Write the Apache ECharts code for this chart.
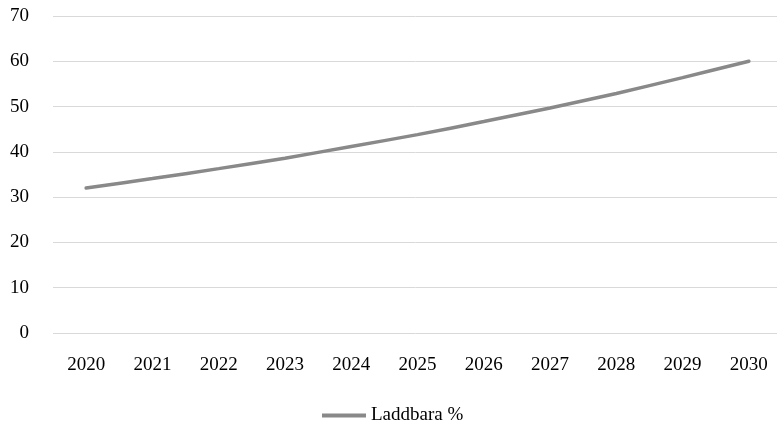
<!DOCTYPE html>
<html>
<head>
<meta charset="utf-8">
<script src="https://cdn.jsdelivr.net/npm/echarts@6/dist/echarts.min.js"></script>
<style>html,body{margin:0;padding:0;background:#fff;}#c{width:777px;height:429px;}</style>
</head>
<body>
<div id="c"></div>
<script>
var categories = ['2020','2021','2022','2023','2024','2025','2026','2027','2028','2029','2030'];
var laddbara = [32, 34.1, 36.3, 38.6, 41.2, 43.8, 46.7, 49.7, 52.9, 56.4, 60];
var seriesName = 'Laddbara %';
var yMin = 0, yMax = 70, yStep = 10;

var font = '"Liberation Serif", serif';
var chart = echarts.init(document.getElementById('c'), null, {renderer: 'canvas'});
chart.setOption({
  animation: false,
  backgroundColor: '#ffffff',
  grid: {left: 53, width: 729, top: 16, bottom: 96, containLabel: false, outerBoundsMode: 'none'},
  legend: {
    data: [seriesName],
    left: 322, top: 406, padding: 0,
    icon: 'rect', itemWidth: 44, itemHeight: 4, itemGap: 10,
    textStyle: {fontFamily: font, fontSize: 19, color: '#000'}
  },
  xAxis: {
    type: 'category', data: categories, boundaryGap: true,
    axisLine: {show: false}, axisTick: {show: false},
    axisLabel: {fontFamily: font, fontSize: 19, color: '#000', margin: 23}
  },
  yAxis: {
    type: 'value', min: yMin, max: yMax, interval: yStep,
    axisLine: {show: false}, axisTick: {show: false},
    axisLabel: {fontFamily: font, fontSize: 19, color: '#000', margin: 24},
    splitLine: {lineStyle: {color: '#d9d9d9', width: 1}}
  },
  series: [{
    name: seriesName, type: 'line', data: laddbara,
    smooth: 0.3, showSymbol: false, symbol: 'none',
    lineStyle: {color: '#898989', width: 3.5, cap: 'round'},
    itemStyle: {color: '#898989'}
  }]
});
</script>
</body>
</html>
